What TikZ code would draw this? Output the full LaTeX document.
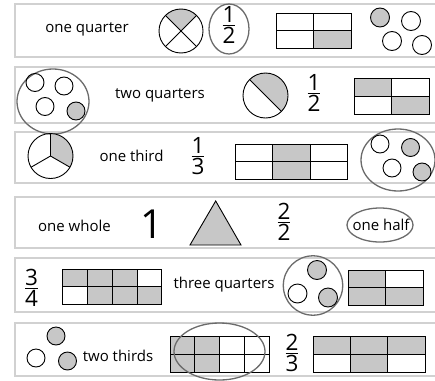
\documentclass[tikz,border=0pt]{standalone}
\usepackage{fontspec}
\setmainfont{Open Sans}
\usetikzlibrary{calc}
\newcommand\myfr[2]{{\setlength\arrayrulewidth{1.4pt}\begin{tabular}{@{}c@{}}#1\\[-5pt]\hline\noalign{\vskip 0pt}#2\end{tabular}}}
\begin{document}
\begin{tikzpicture}[x=1pt,y=-1pt,
  rowbox/.style={draw=black!18,line width=1.6pt},
  lbl/.style={inner sep=0pt,font=\fontsize{15}{17}\selectfont},
  frc/.style={inner sep=0pt,font=\fontsize{22.5}{24}\selectfont},
  shade/.style={fill=black!22},
  blk/.style={draw=black,line width=0.9pt},
  ring/.style={draw=black!58,line width=1.3pt},
  dot/.style={circle,draw=black,line width=0.9pt,inner sep=0pt,minimum size=19pt},
  sdot/.style={dot,fill=black!22}]
\useasboundingbox (0,0) rectangle (435,380);
\clip (0,0) rectangle (435,380);
% row boxes
\draw[rowbox] (15,4) rectangle (450,57);
\draw[rowbox] (15,67) rectangle (450,123);
\draw[rowbox] (15,132) rectangle (450,183);
\draw[rowbox] (15,197) rectangle (450,248);
\draw[rowbox] (15,258) rectangle (450,312);
\draw[rowbox] (15,323) rectangle (450,376);

% ---------- row 1
\node[lbl] (t1) at (87,29) {one quarter};
\coordinate (c1) at (181,31);
\fill[shade] (c1) -- ++(225:22) arc (225:315:22) -- cycle;
\draw[blk] (c1) circle (22);
\draw[blk] ($(c1)+(45:22)$) -- ($(c1)+(225:22)$);
\draw[blk] ($(c1)+(135:22)$) -- ($(c1)+(315:22)$);
\node[frc] (f1) at (229,28) {\myfr{1}{2}};
\draw[ring] (229,29) ellipse (20 and 25);
\fill[shade] (313.5,30.5) rectangle (351,48);
\draw[blk] (276,13) rectangle (351,48) (313.5,13) -- (313.5,48) (276,30.5) -- (351,30.5);
\node[sdot] (d11) at (380,17.5) {};
\node[dot] (d12) at (411,21) {};
\node[dot] (d13) at (392,41) {};
\node[dot] (d14) at (422,45) {};

% ---------- row 2
\draw[ring] (53,101.5) ellipse (36 and 32.5);
\node[dot,minimum size=18pt] (d21) at (35,82.5) {};
\node[dot,minimum size=18pt] (d22) at (64,86) {};
\node[dot,minimum size=18pt] (d23) at (45,106.5) {};
\node[sdot,minimum size=18pt] (d24) at (76,111) {};
\node[lbl] (t2) at (160,95) {two quarters};
\coordinate (c2) at (265.5,95.5);
\fill[shade] (c2) -- ++(225:22.5) arc (225:405:22.5) -- cycle;
\draw[blk] (c2) circle (22.5);
\draw[blk] ($(c2)+(45:22.5)$) -- ($(c2)+(225:22.5)$);
\node[frc] (f2) at (314,96) {\myfr{1}{2}};
\fill[shade] (354,78) rectangle (391.5,96) (391.5,96) rectangle (429,114);
\draw[blk] (354,78) rectangle (429,114) (391.5,78) -- (391.5,114) (354,96) -- (429,96);

% ---------- row 3
\coordinate (c3) at (50.5,156);
\fill[shade] (c3) -- ++(270:22.5) arc (270:390:22.5) -- cycle;
\draw[blk] (c3) circle (22.5);
\draw[blk] (c3) -- ++(270:22.5) (c3) -- ++(150:22.5) (c3) -- ++(30:22.5);
\node[lbl] (t3) at (131.5,156) {one third};
\node[frc] (f3) at (198,159) {\myfr{1}{3}};
\fill[shade] (272.8,144) rectangle (310.2,179);
\draw[blk] (235.5,144) rectangle (347.5,179) (272.8,144) -- (272.8,179) (310.2,144) -- (310.2,179) (235.5,161.5) -- (347.5,161.5);
\draw[ring] (398,160) ellipse (37 and 31);
\node[dot,minimum size=18pt] (d31) at (380,144) {};
\node[sdot,minimum size=18pt] (d32) at (410.5,147.5) {};
\node[dot,minimum size=18pt] (d33) at (392,168) {};
\node[sdot,minimum size=18pt] (d34) at (422,172) {};

% ---------- row 4
\node[lbl] (t4) at (74.5,226) {one whole};
\node[inner sep=0pt,font=\fontsize{40}{40}\selectfont] (one) at (152,224) {1};
\filldraw[shade,blk] (190,245) -- (215.7,201) -- (241,245) -- cycle;
\node[frc] (f4) at (284,225) {\myfr{2}{2}};
\node[lbl] (t4b) at (381,225) {one half};
\draw[ring] (380,225) ellipse (33 and 17);

% ---------- row 5
\node[frc] (f5) at (31.5,291) {\myfr{3}{4}};
\fill[shade] (62.7,269) rectangle (136.95,286.5) (87.45,286.5) rectangle (161.7,304);
\draw[blk] (62.7,269) rectangle (161.7,304) (87.45,269) -- (87.45,304) (112.2,269) -- (112.2,304) (136.95,269) -- (136.95,304) (62.7,286.5) -- (161.7,286.5);
\node[lbl] (t5) at (224,285) {three quarters};
\draw[ring] (313,285.5) circle (29.7);
\node[sdot] (d51) at (317,270) {};
\node[dot] (d52) at (297.5,293.5) {};
\node[sdot] (d53) at (328,297.5) {};
\fill[shade] (348,270) rectangle (385.5,305) (385.5,287.5) rectangle (423,305);
\draw[blk] (348,270) rectangle (423,305) (385.5,270) -- (385.5,305) (348,287.5) -- (423,287.5);

% ---------- row 6
\node[sdot,minimum size=18pt] (d61) at (56,336) {};
\node[dot,minimum size=18pt] (d62) at (36,358) {};
\node[sdot,minimum size=18pt] (d63) at (67.5,361) {};
\node[lbl] (t6) at (118,356) {two thirds};
\fill[shade] (170,336) rectangle (219.5,372);
\draw[blk] (170,336) rectangle (269,372) (194.75,336) -- (194.75,372) (219.5,336) -- (219.5,372) (244.25,336) -- (244.25,372) (170,354) -- (269,354);
\draw[ring] (219.5,351.5) ellipse (45.5 and 28.5);
\node[frc] (f6) at (292,356) {\myfr{2}{3}};
\fill[shade] (313,336) rectangle (425,354) (350.3,354) rectangle (387.7,372);
\draw[blk] (313,336) rectangle (425,372) (350.3,336) -- (350.3,372) (387.7,336) -- (387.7,372) (313,354) -- (425,354);
\end{tikzpicture}
\end{document}
